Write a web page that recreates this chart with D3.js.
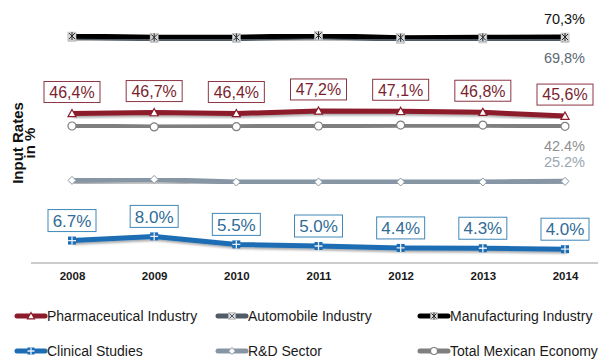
<!DOCTYPE html>
<html>
<head>
<meta charset="utf-8">
<script src="https://cdn.jsdelivr.net/npm/d3@7"></script>
<style>
  html, body { margin: 0; padding: 0; background: #fff; }
  svg { display: block; font-family: Arial, "Liberation Sans", sans-serif; }
</style>
</head>
<body>
<svg id="chart" width="598" height="362"></svg>
<script>
// Input rates (%) by year
const years = [2008, 2009, 2010, 2011, 2012, 2013, 2014];
const manufacturing = [70.6, 70.2, 70.2, 70.8, 70.1, 70.2, 70.3];
const automobile   = [70.2, 69.8, 69.8, 70.4, 69.6, 69.7, 69.8];
const pharma       = [46.4, 46.7, 46.4, 47.2, 47.1, 46.8, 45.6];
const totalEconomy = [42.5, 42.2, 42.3, 42.5, 42.8, 42.8, 42.4];
const rdSector     = [25.5, 25.8, 25.0, 25.0, 25.0, 25.0, 25.2];
const clinical     = [6.7, 8.0, 5.5, 5.0, 4.4, 4.3, 4.0];

const pharmaLabels   = ["46,4%", "46,7%", "46,4%", "47,2%", "47,1%", "46,8%", "45,6%"];
const clinicalLabels = ["6.7%", "8.0%", "5.5%", "5.0%", "4.4%", "4.3%", "4.0%"];

const series = [
  { name: "Automobile Industry",    values: automobile,    color: "#4f5b66", marker: "x" },
  { name: "Manufacturing Industry", values: manufacturing, color: "#000000", marker: "star" },
  { name: "Total Mexican Economy",  values: totalEconomy,  color: "#7f7f7f", marker: "circle" },
  { name: "Pharmaceutical Industry",values: pharma,        color: "#8c1b2c", marker: "triangle" },
  { name: "R&D Sector",             values: rdSector,      color: "#8796a4", marker: "diamond" },
  { name: "Clinical Studies",       values: clinical,      color: "#1c6db3", marker: "plus" }
];

const svg = d3.select("#chart");

const defs = svg.append("defs");
const f = defs.append("filter").attr("id", "shadow")
  .attr("x", "-10%").attr("y", "-50%").attr("width", "120%").attr("height", "200%");
f.append("feDropShadow").attr("dx", 1.2).attr("dy", 1.8).attr("stdDeviation", 1)
  .attr("flood-color", "#000").attr("flood-opacity", 0.35);

const x = d3.scalePoint().domain(years).range([72, 565]);
const y = d3.scaleLinear().domain([0, 80]).range([262, 6]);

// baseline
svg.append("line").attr("x1", 31).attr("x2", 598).attr("y1", 263).attr("y2", 263)
  .attr("stroke", "#9a9a9a").attr("stroke-width", 1.2);

// year labels
const xAxis = d3.axisBottom(x).tickSize(0).tickPadding(0).tickFormat(d3.format("d"));
const gx = svg.append("g").attr("transform", "translate(0,272)").call(xAxis);
gx.select(".domain").remove();
gx.selectAll("text").attr("font-size", 11.5).attr("font-weight", "bold")
  .attr("fill", "#1a1a1a").attr("font-family", "Arial, 'Liberation Sans', sans-serif");

// y title
const yt = svg.append("text").attr("transform", "translate(23,143) rotate(-90)")
  .attr("text-anchor", "middle").attr("font-size", 15).attr("font-weight", "bold").attr("fill", "#111");
yt.append("tspan").attr("x", 0).attr("dy", 0).text("Input Rates");
yt.append("tspan").attr("x", 0).attr("dy", 12).text("in %");

// marker drawing
function drawMarker(g, type, color, size) {
  const s = size || 4;
  if (type === "triangle") {
    g.append("path").attr("d", `M0,${-s}L${s},${s*0.8}L${-s},${s*0.8}Z`)
      .attr("fill", "#fff").attr("stroke", color).attr("stroke-width", 1.2);
  } else if (type === "circle") {
    g.append("circle").attr("r", s).attr("fill", "#fff").attr("stroke", color).attr("stroke-width", 1.2);
  } else if (type === "diamond") {
    g.append("path").attr("d", `M0,${-s}L${s},0L0,${s}L${-s},0Z`)
      .attr("fill", "#fff").attr("stroke", color).attr("stroke-width", 1);
  } else if (type === "plus") {
    g.append("rect").attr("x", -s).attr("y", -s).attr("width", 2*s).attr("height", 2*s).attr("fill", color);
    g.append("path").attr("d", `M${-s},0H${s}M0,${-s}V${s}`).attr("stroke", "#e8eef5").attr("stroke-width", 1.3);
  } else if (type === "x" || type === "star") {
    g.append("rect").attr("x", -s).attr("y", -s).attr("width", 2*s).attr("height", 2*s)
      .attr("fill", "#d9d9d9").attr("stroke", "#bbb").attr("stroke-width", 0.6);
    let p = `M${-s+1},${-s+1}L${s-1},${s-1}M${s-1},${-s+1}L${-s+1},${s-1}`;
    if (type === "star") p += `M0,${-s}V${s}`;
    g.append("path").attr("d", p).attr("stroke", color === "#000000" ? "#222" : color).attr("stroke-width", 1);
  }
}

const line = d3.line().x((d, i) => x(years[i])).y(d => y(d));

series.forEach(s => {
  const g = svg.append("g");
  g.append("path").datum(s.values).attr("d", line)
    .attr("fill", "none").attr("stroke", s.color).attr("stroke-width", 5)
    .attr("stroke-linejoin", "round").attr("filter", "url(#shadow)");
  s.values.forEach((v, i) => {
    const m = g.append("g").attr("transform", `translate(${x(years[i])},${y(v)})`);
    drawMarker(m, s.marker, s.color, 4);
  });
});

// boxed value labels
function boxLabels(values, labels, color, textColor, fontSize, gap, w, h) {
  values.forEach((v, i) => {
    const cx = x(years[i]);
    const bottom = y(v) - gap;
    const g = svg.append("g");
    g.append("rect").attr("x", cx - w / 2).attr("y", bottom - h).attr("width", w).attr("height", h)
      .attr("fill", "#fff").attr("stroke", color).attr("stroke-width", 1);
    g.append("text").attr("x", cx).attr("y", bottom - h / 2).attr("dy", "0.36em")
      .attr("text-anchor", "middle").attr("font-size", fontSize).attr("fill", textColor)
      .text(labels[i]);
  });
}
boxLabels(pharma, pharmaLabels, "#8c3545", "#7a1f30", 16, 11, 56, 21);
boxLabels(clinical, clinicalLabels, "#3f87b8", "#2f6c96", 17, 9, 48, 22);

// end labels
const endLabels = [
  { text: "70,3%", y: 19, color: "#111" },
  { text: "69,8%", y: 58, color: "#5c6976" },
  { text: "42.4%", y: 146, color: "#8f8f8f" },
  { text: "25.2%", y: 162, color: "#9aa6b2" }
];
svg.selectAll(".endlabel").data(endLabels).enter().append("text")
  .attr("x", 585).attr("y", d => d.y).attr("dy", "0.36em").attr("text-anchor", "end")
  .attr("font-size", 14.5).attr("fill", d => d.color).text(d => d.text);

// legend
const legendOrder = [
  { s: series[3], x: 15,  y: 316 },
  { s: series[0], x: 216, y: 316 },
  { s: series[1], x: 418, y: 316 },
  { s: series[5], x: 15,  y: 351 },
  { s: series[4], x: 216, y: 351 },
  { s: series[2], x: 418, y: 351 }
];
legendOrder.forEach(d => {
  const g = svg.append("g").attr("transform", `translate(${d.x},${d.y})`);
  g.append("line").attr("x1", 2).attr("x2", 30).attr("y1", 0).attr("y2", 0)
    .attr("stroke", d.s.color).attr("stroke-width", 5).attr("stroke-linecap", "round");
  const m = g.append("g").attr("transform", "translate(16,0)");
  drawMarker(m, d.s.marker, d.s.color, 3.5);
  g.append("text").attr("x", 32).attr("y", 0).attr("dy", "0.36em")
    .attr("font-size", 14).attr("fill", "#1a1a1a").text(d.s.name);
});
</script>
</body>
</html>
